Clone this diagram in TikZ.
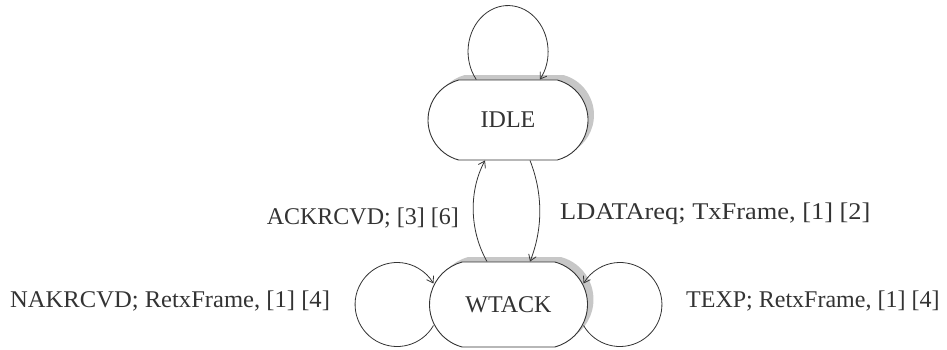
\documentclass[tikz,border=0pt]{standalone}
\usepackage{fontspec}
\setmainfont{Liberation Serif}
\usetikzlibrary{shapes.misc,shadows,arrows.meta}

\definecolor{ink}{gray}{0.2}
\definecolor{shade}{gray}{0.78}

\tikzset{
  state/.style={
    rounded rectangle, rounded rectangle arc length=150,
    draw=ink, line width=0.9pt, fill=white, text=ink,
    inner sep=0pt, font=\fontsize{24}{28}\selectfont,
    drop shadow={shadow xshift=6pt, shadow yshift=5pt, opacity=1, fill=shade}
  },
  trans/.style={draw=ink, line width=0.8pt, -{Straight Barb[length=6pt,width=8pt]}},
  lbl/.style={text=ink, inner sep=0pt, font=\fontsize{24}{28}\selectfont}
}

\begin{document}
\begin{tikzpicture}[x=1pt,y=1pt]
  \useasboundingbox (0,0) rectangle (947,-349);

  % states
  \node[state, minimum width=160pt, minimum height=80pt] (idle)  at (508,-120)     {IDLE};
  \node[state, minimum width=158pt, minimum height=85pt] (wtack) at (508.5,-304.5) {WTACK};

  % self-loop on IDLE
  \draw[trans] ([xshift=-31.7pt]idle.north)
      arc[start angle=217.5, end angle=-37.5, x radius=40, y radius=46];

  % IDLE <-> WTACK
  \draw[trans] ([xshift=-21.5pt]wtack.north)
      .. controls +(-18,32) and +(-16,-30) .. ([xshift=-23pt]idle.south);
  \draw[trans] ([xshift=22pt]idle.south)
      .. controls +(13,-33) and +(13,33) .. ([xshift=21.5pt]wtack.north);

  % self-loops on WTACK
  \draw[trans] ([shift={(4.4,-21)}]wtack.west)
      arc[start angle=-30, end angle=-330, radius=42];
  \draw[trans] ([shift={(-4.4,-21)}]wtack.east)
      arc[start angle=210, end angle=510, radius=42];

  % transition labels
  \node[lbl, anchor=base east] (lack)  at (459,-224) {ACKRCVD; [3] [6]};
  \node[lbl, anchor=base west, transform shape, xscale=1.1] (ldata) at (560,-219)
      {LDATAreq; TxFrame, [1] [2]};
  \node[lbl, anchor=base west, transform shape, xscale=1.025] (lnak) at (10,-307)
      {NAKRCVD; RetxFrame, [1] [4]};
  \node[lbl, anchor=base west] (ltexp) at (686,-307) {TEXP; RetxFrame, [1] [4]};
\end{tikzpicture}
\end{document}
